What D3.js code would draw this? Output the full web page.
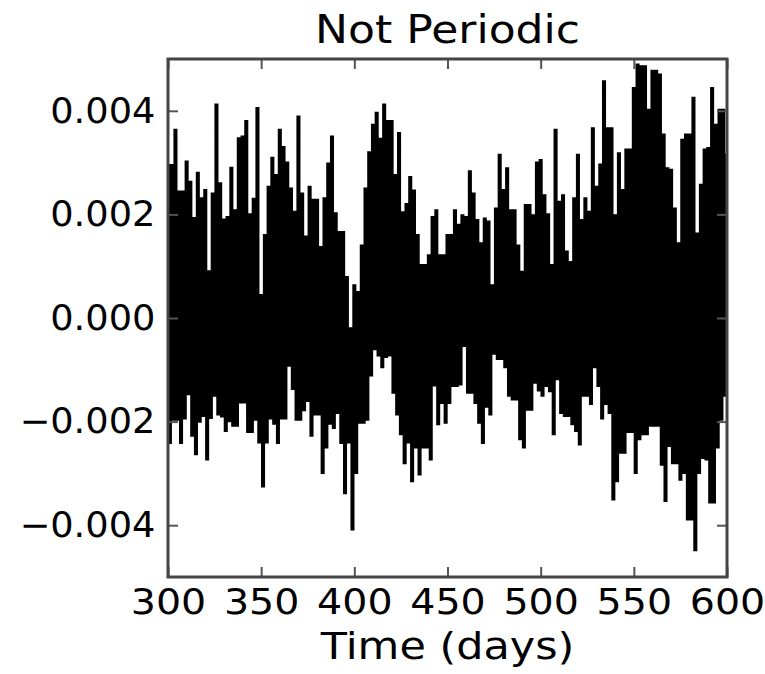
<!DOCTYPE html>
<html>
<head>
<meta charset="utf-8">
<script src="https://cdn.jsdelivr.net/npm/d3@7"></script>
<style>
  body { margin: 0; background: #fff; }
  text { font-family: "DejaVu Sans", sans-serif; fill: #000; }
</style>
</head>
<body>
<div id="chart"></div>
<script>
// light curve envelope, units of 1e-3
// upper peaks every 2 days from day 300, lower troughs every 2 days from day 301
var upperPeaks = [
  2.95, 2.95, 3.63, 2.44, 2.44, 3.02, 2.63, 1.93, 2.80, 2.31,
  2.47, 0.90, 2.40, 4.12, 2.60, 1.90, 1.95, 2.90, 2.08, 3.47,
  3.50, 3.80, 2.00, 2.30, 4.05, 0.44, 1.60, 2.53, 3.09, 2.76,
  3.63, 3.30, 3.00, 2.50, 2.05, 3.89, 2.40, 1.57, 2.53, 2.28,
  2.28, 1.37, 2.31, 2.98, 3.50, 2.02, 1.66, 1.66, 0.79, -0.20,
  0.63, 0.50, 1.40, 2.50, 3.20, 3.73, 3.96, 3.46, 4.12, 3.80,
  3.80, 2.76, 3.57, 2.04, 2.20, 2.72, 2.46, 1.60, 1.02, 1.02,
  1.21, 1.95, 2.08, 1.21, 1.21, 1.60, 1.60, 2.08, 1.80, 1.98,
  1.95, 2.83, 2.40, 1.89, 1.44, 1.92, 1.86, 0.63, 2.11, 3.15,
  2.47, 2.89, 2.08, 2.08, 1.40, 0.89, 2.18, 2.18, 1.98, 3.00,
  3.05, 2.37, 2.00, 1.02, 3.63, 2.24, 2.37, 1.28, 1.08, 2.31,
  3.15, 1.89, 2.31, 2.05, 3.66, 2.53, 2.96, 4.57, 3.66, 3.66,
  1.98, 3.18, 2.47, 3.25, 3.25, 4.44, 4.89, 4.86, 4.86, 4.02,
  4.77, 4.77, 4.70, 3.54, 2.89, 2.86, 2.11, 1.44, 3.44, 3.54,
  3.54, 4.25, 1.63, 2.57, 3.25, 3.28, 4.44, 3.73, 4.02, 4.02,
  3.15
];
var lowerTroughs = [
  -2.41, -1.96, -1.96, -2.41, -1.94, -1.47, -2.27, -2.63, -2.00, -1.89,
  -2.73, -1.93, -1.50, -1.86, -1.90, -2.18, -1.99, -2.08, -2.08, -1.63,
  -1.63, -2.20, -2.20, -1.96, -2.40, -3.25, -2.40, -1.94, -2.04, -2.41,
  -1.94, -1.94, -0.92, -1.37, -1.96, -1.96, -1.78, -1.60, -2.27, -1.86,
  -1.86, -2.99, -2.50, -2.04, -2.12, -1.83, -2.41, -3.38, -2.40, -4.08,
  -2.99, -2.02, -2.02, -1.96, -1.11, -0.60, -0.72, -0.95, -0.75, -0.72,
  -1.44, -1.86, -2.24, -2.80, -2.40, -3.15, -2.50, -3.02, -2.50, -2.50,
  -2.73, -1.30, -2.05, -1.64, -2.02, -1.64, -1.31, -1.31, -1.28, -0.54,
  -1.44, -1.44, -1.64, -2.02, -2.41, -1.71, -1.86, -0.69, -0.79, -0.79,
  -0.95, -1.50, -1.57, -1.57, -2.34, -2.50, -1.77, -1.77, -1.25, -1.40,
  -1.50, -1.31, -1.41, -2.24, -1.18, -1.83, -1.89, -1.89, -2.05, -2.18,
  -2.44, -1.50, -1.50, -1.66, -0.95, -1.31, -1.94, -1.66, -1.83, -3.50,
  -3.15, -2.60, -2.60, -2.20, -2.20, -2.99, -2.34, -2.24, -2.24, -2.08,
  -2.08, -2.08, -2.83, -3.53, -2.47, -2.80, -2.80, -3.12, -2.99, -3.89,
  -3.89, -4.48, -2.99, -2.70, -2.73, -3.56, -3.56, -2.50, -1.96, -1.50
];
var startDay = 300;
var xTicks = [300, 350, 400, 450, 500, 550, 600];
var yTicks = [-0.004, -0.002, 0.000, 0.002, 0.004];
var titleText = "Not Periodic";
var xLabelText = "Time (days)";

var svgWidth = 765;
var svgHeight = 674;
var margin = {top: 59, right: 38, bottom: 97, left: 168};
var width = svgWidth - margin.left - margin.right;
var height = svgHeight - margin.top - margin.bottom;
// the picture's text is a bit wider than DejaVu
var stretch = "scale(1.13,1)";
var stretchY = "scale(1.05,1)";

// interleave peaks and troughs into one time series
var series = [];
upperPeaks.forEach(function(v, i) {
  series.push({t: startDay + i * 2, f: v / 1000});
  if (i < lowerTroughs.length)
    series.push({t: startDay + i * 2 + 1, f: lowerTroughs[i] / 1000});
});

var svg = d3.select("#chart").append("svg")
  .attr("width", svgWidth)
  .attr("height", svgHeight);

var g = svg.append("g")
  .attr("transform", "translate(" + margin.left + "," + margin.top + ")");

var xScale = d3.scaleLinear().domain([300, 600]).range([0, width]);
var yScale = d3.scaleLinear().domain([-0.005, 0.005]).range([height, 0]);

g.append("clipPath").attr("id", "clip")
  .append("rect").attr("width", width).attr("height", height);

var line = d3.line()
  .x(function(d) { return xScale(d.t); })
  .y(function(d) { return yScale(d.f); })
  .curve(d3.curveStep);

g.append("path")
  .datum(series)
  .attr("clip-path", "url(#clip)")
  .attr("fill", "none")
  .attr("stroke", "#000")
  .attr("stroke-width", 2.2)
  .attr("d", line);

var fmt = d3.format(".3f");
var tickLen = -10;

var gX = g.append("g").attr("class", "axis xaxis")
  .attr("transform", "translate(0," + height + ")")
  .call(d3.axisBottom(xScale).tickValues(xTicks).tickSize(tickLen).tickPadding(12));
var gXt = g.append("g").attr("class", "axis")
  .call(d3.axisTop(xScale).tickValues(xTicks).tickSize(tickLen).tickFormat(""));
var gY = g.append("g").attr("class", "axis yaxis")
  .call(d3.axisLeft(yScale).tickValues(yTicks).tickSize(tickLen).tickPadding(12).tickFormat(fmt));
var gYr = g.append("g").attr("class", "axis")
  .attr("transform", "translate(" + width + ",0)")
  .call(d3.axisRight(yScale).tickValues(yTicks).tickSize(tickLen).tickFormat(""));

g.selectAll(".axis .domain").remove();
g.selectAll(".axis line").attr("stroke", "#555").attr("stroke-width", 2);
g.selectAll(".axis text")
  .attr("font-size", 35)
  .attr("font-family", "DejaVu Sans")
  .attr("fill", "#000");
gX.selectAll("text").attr("transform", stretch);
gY.selectAll("text").attr("transform", stretchY);

// frame
g.append("rect")
  .attr("width", width)
  .attr("height", height)
  .attr("fill", "none")
  .attr("stroke", "#444")
  .attr("stroke-width", 3);

svg.append("text")
  .attr("transform", "translate(" + (margin.left + width / 2) + ",43) " + stretch)
  .attr("text-anchor", "middle")
  .attr("font-size", 39)
  .text(titleText);

svg.append("text")
  .attr("transform", "translate(" + (margin.left + width / 2) + ",659) " + stretch)
  .attr("text-anchor", "middle")
  .attr("font-size", 38)
  .text(xLabelText);
</script>
</body>
</html>
